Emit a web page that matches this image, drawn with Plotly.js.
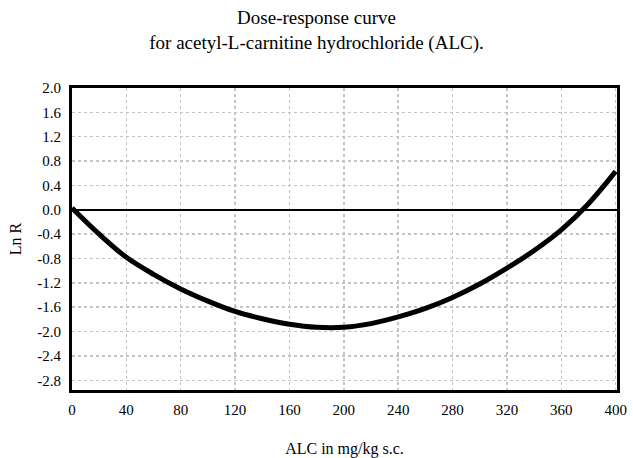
<!DOCTYPE html>
<html>
<head>
<meta charset="utf-8">
<script src="https://cdn.plot.ly/plotly-3.0.1.min.js"></script>
<style>html,body{margin:0;padding:0;background:#fff;}#chart{width:633px;height:458px;}</style>
</head>
<body>
<div id="chart"></div>
<script>
const doseMgKg = [0, 20, 40, 60, 80, 100, 120, 140, 160, 180, 200, 220, 240, 260, 280, 300, 320, 340, 360, 380, 400];
const lnR = [0.03, -0.40, -0.78, -1.06, -1.30, -1.50, -1.67, -1.79, -1.88, -1.93, -1.93, -1.87, -1.76, -1.62, -1.44, -1.22, -0.96, -0.67, -0.33, 0.10, 0.63];
const xTicks = [0, 40, 80, 120, 160, 200, 240, 280, 320, 360, 400];
const yTicks = [2.0, 1.6, 1.2, 0.8, 0.4, 0.0, -0.4, -0.8, -1.2, -1.6, -2.0, -2.4, -2.8];
const yTickLabels = ["2.0", "1.6", "1.2", "0.8", "0.4", "0.0", "-0.4", "-0.8", "-1.2", "-1.6", "-2.0", "-2.4", "-2.8"];

const font = "Liberation Serif, Times New Roman, serif";

Plotly.newPlot('chart', [{
  x: doseMgKg,
  y: lnR,
  type: 'scatter',
  mode: 'lines',
  line: {color: '#000', width: 5, shape: 'spline', smoothing: 1},
  hoverinfo: 'none'
}], {
  width: 633,
  height: 458,
  margin: {l: 72, r: 16, t: 88, b: 68},
  paper_bgcolor: '#fff',
  plot_bgcolor: '#fff',
  showlegend: false,
  font: {family: font, color: '#000', size: 15},
  title: {
    text: 'Dose-response curve<br>for acetyl-L-carnitine hydrochloride (ALC).',
    font: {family: font, size: 19, color: '#000'},
    x: 0.5, xanchor: 'center', y: 0.948, yanchor: 'top'
  },
  xaxis: {
    range: [0, 401],
    tickvals: xTicks,
    ticktext: xTicks.map(String),
    showgrid: true,
    gridcolor: '#c4c4c4',
    griddash: 'dot',
    gridwidth: 1.5,
    zeroline: false,
    showline: true,
    linecolor: '#000',
    linewidth: 3,
    mirror: true,
    ticks: '',
    ticklabelstandoff: 4,
    tickfont: {family: font, size: 15, color: '#000'},
    title: {text: 'ALC in mg/kg s.c.', font: {family: font, size: 16, color: '#000'}, standoff: 30}
  },
  yaxis: {
    range: [-2.96, 2.0],
    tickvals: yTicks,
    ticktext: yTickLabels,
    showgrid: true,
    gridcolor: '#c4c4c4',
    griddash: 'dot',
    gridwidth: 1.5,
    zeroline: true,
    zerolinecolor: '#000',
    zerolinewidth: 2,
    showline: true,
    linecolor: '#000',
    linewidth: 3,
    mirror: true,
    ticks: '',
    ticklabelstandoff: 5,
    tickfont: {family: font, size: 15, color: '#000'},
    title: {text: 'Ln R', font: {family: font, size: 16, color: '#000'}, standoff: 12}
  }
}, {staticPlot: true});
</script>
</body>
</html>
